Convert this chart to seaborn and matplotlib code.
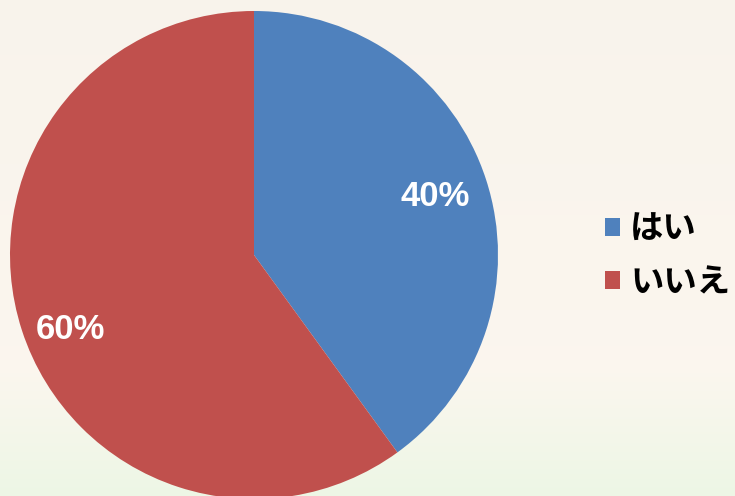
import numpy as np
import matplotlib
matplotlib.use("Agg")
import matplotlib.pyplot as plt
import seaborn as sns

# chart data
labels = ["はい", "いいえ"]
shares = [40, 60]
slice_colors = ["#4F81BD", "#C0504D"]

sns.set_theme(style="white")
plt.rcParams['font.family'] = ['Noto Sans CJK JP', 'DejaVu Sans']

fig = plt.figure(figsize=(7.35, 4.96), dpi=100)

# soft background (cream at top fading to pale green at the bottom)
bg = fig.add_axes([0, 0, 1, 1])
bg.set_axis_off()
top = np.array([0.975, 0.955, 0.925])
mid = np.array([0.985, 0.965, 0.935])
bottom = np.array([0.93, 0.965, 0.90])
t = np.linspace(0, 1, 200)[:, None]
grad = np.where(t < 0.75, top + (mid - top) * (t / 0.75),
                mid + (bottom - mid) * ((t - 0.75) / 0.25))
bg.imshow(grad[:, None, :], aspect="auto", extent=[0, 1, 0, 1])
bg.set_xlim(0, 1)
bg.set_ylim(0, 1)

# pie
ax = fig.add_axes([10 / 735, (496 - 255 - 244) / 496, 488 / 735, 488 / 496])
palette = sns.color_palette(slice_colors)
wedges, texts, autotexts = ax.pie(
    shares,
    colors=palette,
    startangle=90,
    counterclock=False,
    autopct="%d%%",
    pctdistance=0.79,
    textprops=dict(color="white", fontsize=25, fontweight="bold",
                   family=["Liberation Sans", "DejaVu Sans"]),
    wedgeprops=dict(linewidth=0),
)

# nudge the labels a little along the arc, like the original's best-fit placement
label_shift = [0.0, 4.0]   # degrees
label_dist = [0.78, 0.81]
for w, txt, d, r in zip(wedges, autotexts, label_shift, label_dist):
    ang = np.deg2rad((w.theta1 + w.theta2) / 2 + d)
    txt.set_position((r * np.cos(ang), r * np.sin(ang)))

ax.set_xlim(-1, 1)
ax.set_ylim(-1, 1)
ax.set_aspect("auto")
ax.set_axis_off()

leg = fig.legend(
    wedges, labels,
    loc="center left",
    bbox_to_anchor=(605 / 735, (496 - 256) / 496),
    frameon=False,
    prop=dict(family="Noto Sans CJK JP", weight="bold", size=24),
    handlelength=0.45,
    handleheight=0.45,
    handletextpad=0.3,
    labelspacing=0.62,
    borderpad=0,
    borderaxespad=0,
)
for txt in leg.get_texts():
    txt.set_color("black")

fig.savefig("out.png", dpi=100)
